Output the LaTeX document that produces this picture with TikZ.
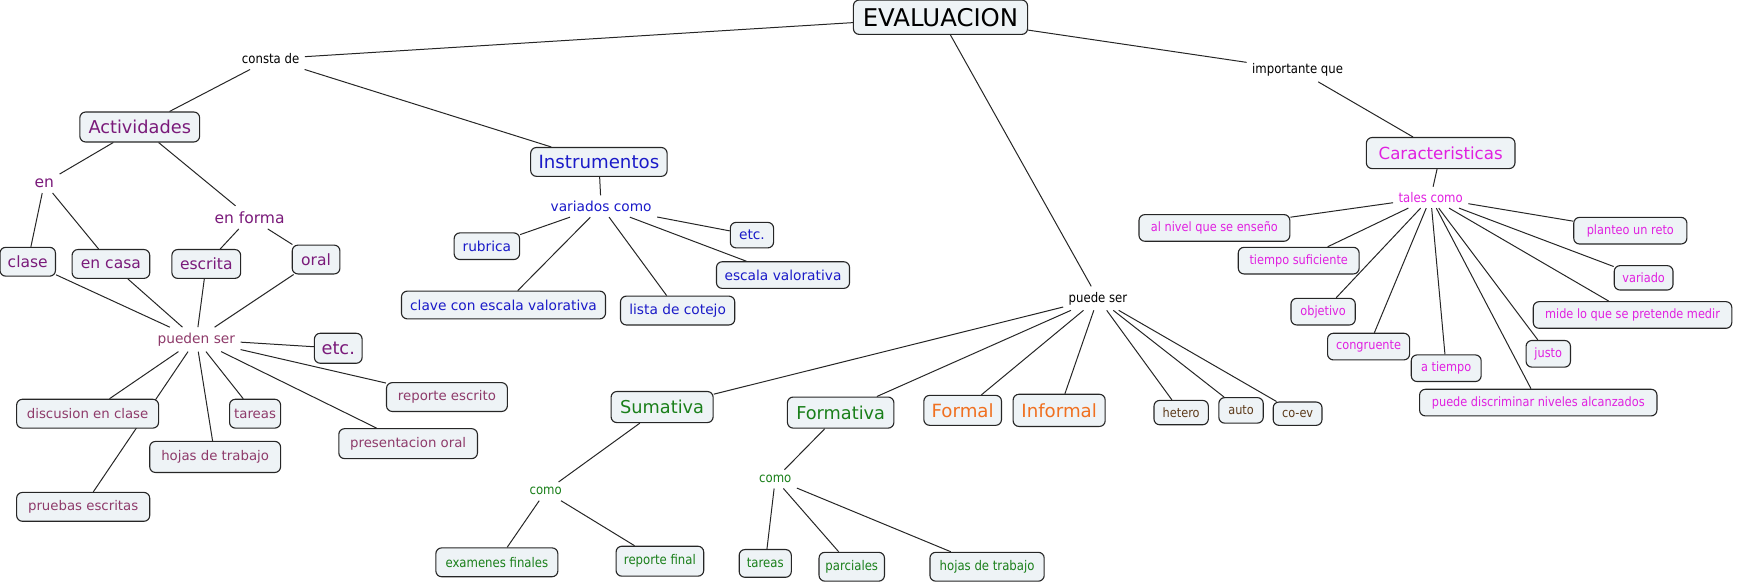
\documentclass[tikz,border=0pt]{standalone}
\usepackage{fontspec}
\setmainfont{DejaVu Sans}
\newfontfamily\condfont{DejaVu Sans}[FakeStretch=0.88]
\usetikzlibrary{backgrounds}
\definecolor{boxfill}{HTML}{EEF3F6}
\definecolor{cpurple}{HTML}{7A1A7A}
\definecolor{cmauve}{HTML}{8E3A6A}
\definecolor{cblue}{HTML}{1A1AC8}
\definecolor{cgreen}{HTML}{1A7F1A}
\definecolor{corange}{HTML}{F07020}
\definecolor{cmag}{HTML}{E020E0}
\definecolor{cbrown}{HTML}{5C3A1A}
\tikzset{
  cbox/.style 2 args={draw=black!85, line width=0.5pt, rounded corners=2.6pt, fill=boxfill,
    inner sep=0pt, minimum width=#1*0.5pt, minimum height=#2*0.5pt},
  fsz/.style={font=\fontsize{#1}{#1}\selectfont},
  csz/.style={font=\condfont\fontsize{#1}{#1}\selectfont},
  lbl/.style={inner sep=1pt, outer sep=1.5pt},
  edge/.style={draw=black!85, line width=0.45pt},
  tblack/.style={text=black},
  tpurple/.style={text=cpurple},
  tmauve/.style={text=cmauve},
  tblue/.style={text=cblue},
  tgreen/.style={text=cgreen},
  torange/.style={text=corange},
  tmag/.style={text=cmag},
  tbrown/.style={text=cbrown},
}
\begin{document}
\begin{tikzpicture}[x=0.5pt, y=-0.5pt]
\useasboundingbox (0,0) rectangle (1568,527);
% top
\node[cbox={157}{31}, tblack, fsz=11] (eval) at (848,15.5) {EVALUACION};
\node[lbl, tblack, csz=6] (consta) at (244,53) {consta de};
\node[lbl, tblack, csz=6] (importante) at (1170,63) {importante que};
\node[lbl, tblack, csz=6] (puedeser) at (990,269) {puede ser};
% Actividades branch
\node[cbox={108}{27}, tpurple, fsz=8] (act) at (126,114.5) {Actividades};
\node[lbl, tpurple, fsz=7] (en) at (40,165) {en};
\node[lbl, tpurple, fsz=7] (enforma) at (225,196) {en forma};
\node[cbox={50}{26}, tpurple, fsz=7] (clase) at (25,236) {clase};
\node[cbox={70}{26}, tpurple, fsz=7] (encasa) at (100,238) {en casa};
\node[cbox={62}{26}, tpurple, fsz=7] (escrita) at (186,238) {escrita};
\node[cbox={43}{26}, tpurple, fsz=7] (oral) at (285,234) {oral};
\node[lbl, tmauve, fsz=6.2] (puedenser) at (177,306) {pueden ser};
\node[cbox={43}{27}, tpurple, fsz=8] (etcL) at (305,314) {etc.};
\node[cbox={128}{26}, tmauve, fsz=6] (discusion) at (79,373) {discusion en clase};
\node[cbox={46}{26}, tmauve, fsz=6] (tareasL) at (230,373) {tareas};
\node[cbox={109}{26}, tmauve, fsz=6] (reporteesc) at (403,358) {reporte escrito};
\node[cbox={118}{28}, tmauve, fsz=6] (hojasL) at (194,412) {hojas de trabajo};
\node[cbox={125}{27}, tmauve, fsz=6] (presentacion) at (368,400) {presentacion oral};
\node[cbox={120}{26}, tmauve, fsz=6] (pruebas) at (75,457) {pruebas escritas};
% Instrumentos branch
\node[cbox={123}{26}, tblue, fsz=8.2] (inst) at (540,146) {Instrumentos};
\node[lbl, tblue, fsz=6.2] (variados) at (542,186) {variados como};
\node[cbox={59}{24}, tblue, fsz=6.2] (rubrica) at (439,222) {rubrica};
\node[cbox={39}{23}, tblue, fsz=6.2] (etcI) at (678,212) {etc.};
\node[cbox={120}{24}, tblue, fsz=6.2] (escala) at (706,248) {escala valorativa};
\node[cbox={184}{25}, tblue, fsz=6.2] (clave) at (454,275) {clave con escala valorativa};
\node[cbox={103}{26}, tblue, fsz=6.2] (lista) at (611,280) {lista de cotejo};
% puede ser branch
\node[cbox={92}{28}, tgreen, fsz=8] (sum) at (597,367) {Sumativa};
\node[cbox={96}{28}, tgreen, fsz=8] (form) at (758,372) {Formativa};
\node[cbox={70}{27}, torange, fsz=8.2] (formal) at (868,370) {Formal};
\node[cbox={83}{29}, torange, fsz=8.2] (informal) at (955,370) {Informal};
\node[cbox={49}{22}, tbrown, csz=5.8] (hetero) at (1065,372) {hetero};
\node[cbox={40}{23}, tbrown, csz=5.8] (auto) at (1119,370) {auto};
\node[cbox={44}{21}, tbrown, csz=5.8] (coev) at (1170,373) {co-ev};
\node[lbl, tgreen, csz=6] (como1) at (492,443) {como};
\node[lbl, tgreen, csz=6] (como2) at (699,432) {como};
\node[cbox={110}{26}, tgreen, csz=6] (examenes) at (448,507) {examenes finales};
\node[cbox={79}{27}, tgreen, csz=6] (repfinal) at (595,506) {reporte final};
\node[cbox={47}{25}, tgreen, csz=6] (tareasF) at (690,508) {tareas};
\node[cbox={59}{26}, tgreen, csz=6] (parciales) at (768,511) {parciales};
\node[cbox={103}{26}, tgreen, csz=6] (hojasF) at (890,511) {hojas de trabajo};
% Caracteristicas branch
\node[cbox={134}{28}, tmag, fsz=7.5] (car) at (1299,138) {Caracteristicas};
\node[lbl, tmag, csz=6] (tales) at (1290,178) {tales como};
\node[cbox={136}{24}, tmag, csz=5.8] (alnivel) at (1095,205.5) {al nivel que se enseño};
\node[cbox={109}{24}, tmag, csz=5.8] (tiempo) at (1171,235) {tiempo suficiente};
\node[cbox={58}{24}, tmag, csz=5.8] (objetivo) at (1193,281) {objetivo};
\node[cbox={74}{24}, tmag, csz=5.8] (congruente) at (1234,312.5) {congruente};
\node[cbox={63}{24}, tmag, csz=5.8] (atiempo) at (1304,332) {a tiempo};
\node[cbox={214}{24}, tmag, csz=5.8] (puededisc) at (1387,363) {puede discriminar niveles alcanzados};
\node[cbox={40}{24}, tmag, csz=5.8] (justo) at (1396,319) {justo};
\node[cbox={179}{24}, tmag, csz=5.8] (mide) at (1472,284) {mide lo que se pretende medir};
\node[cbox={53}{22}, tmag, csz=5.8] (variado) at (1482,250.5) {variado};
\node[cbox={102}{24}, tmag, csz=5.8] (planteo) at (1470,208) {planteo un reto};
% connectors
\begin{scope}[on background layer]
\draw[edge] (eval) -- (consta);
\draw[edge] (consta) -- (act);
\draw[edge] (consta) -- (inst);
\draw[edge] (eval) -- (puedeser);
\draw[edge] (eval) -- (importante);
\draw[edge] (importante) -- (car);
\draw[edge] (act) -- (en);
\draw[edge] (act) -- (enforma);
\draw[edge] (en) -- (clase);
\draw[edge] (en) -- (encasa);
\draw[edge] (enforma) -- (escrita);
\draw[edge] (enforma) -- (oral);
\draw[edge] (clase) -- (puedenser);
\draw[edge] (encasa) -- (puedenser);
\draw[edge] (escrita) -- (puedenser);
\draw[edge] (oral) -- (puedenser);
\draw[edge] (puedenser) -- (etcL);
\draw[edge] (puedenser) -- (reporteesc);
\draw[edge] (puedenser) -- (presentacion);
\draw[edge] (puedenser) -- (tareasL);
\draw[edge] (puedenser) -- (hojasL);
\draw[edge] (puedenser) -- (discusion);
\draw[edge] (puedenser) -- (pruebas);
\draw[edge] (inst) -- (variados);
\draw[edge] (variados) -- (rubrica);
\draw[edge] (variados) -- (clave);
\draw[edge] (variados) -- (lista);
\draw[edge] (variados) -- (escala);
\draw[edge] (variados) -- (etcI);
\draw[edge] (puedeser) -- (sum);
\draw[edge] (puedeser) -- (form);
\draw[edge] (puedeser) -- (formal);
\draw[edge] (puedeser) -- (informal);
\draw[edge] (puedeser) -- (hetero);
\draw[edge] (puedeser) -- (auto);
\draw[edge] (puedeser) -- (coev);
\draw[edge] (sum) -- (como1);
\draw[edge] (como1) -- (examenes);
\draw[edge] (como1) -- (repfinal);
\draw[edge] (form) -- (como2);
\draw[edge] (como2) -- (tareasF);
\draw[edge] (como2) -- (parciales);
\draw[edge] (como2) -- (hojasF);
\draw[edge] (car) -- (tales);
\draw[edge] (tales) -- (alnivel);
\draw[edge] (tales) -- (tiempo);
\draw[edge] (tales) -- (objetivo);
\draw[edge] (tales) -- (congruente);
\draw[edge] (tales) -- (atiempo);
\draw[edge] (tales) -- (puededisc);
\draw[edge] (tales) -- (justo);
\draw[edge] (tales) -- (mide);
\draw[edge] (tales) -- (variado);
\draw[edge] (tales) -- (planteo);
\end{scope}
\end{tikzpicture}
\end{document}
